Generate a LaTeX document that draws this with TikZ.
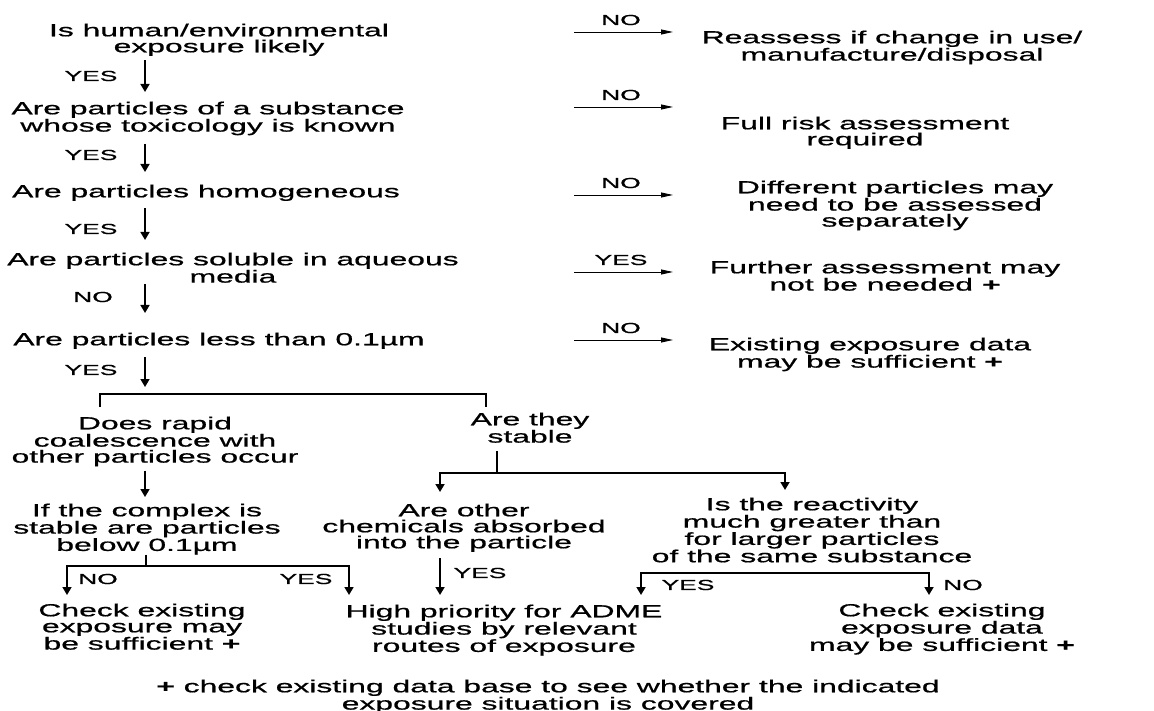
\documentclass[tikz,border=0pt]{standalone}
\usepackage{fontspec}
\setmainfont{Liberation Sans}[FakeStretch=1.82, FakeBold=0.8]
\usetikzlibrary{arrows.meta}

\newcommand{\pls}{{\bfseries+}}

\tikzset{
  txt/.style={align=center, inner sep=0pt, anchor=north, font=\fontsize{17.5}{16}\selectfont},
  lbl/.style={inner sep=0pt, font=\fontsize{14.5}{16}\selectfont},
  dn/.style={line width=1.7pt, -{Triangle[width=9pt,length=8pt]}},
  rt/.style={line width=0.9pt, -{Triangle[width=5pt,length=12pt]}},
  lnk/.style={line width=1.5pt},
}

\begin{document}
\begin{tikzpicture}[x=1pt,y=-1pt]
\useasboundingbox (0,0) rectangle (1154,711);

\coordinate (colL) at (145,0);
\coordinate (s1) at (145,394);
\coordinate (s1l) at (100,394);
\coordinate (s1r) at (486,394);
\coordinate (s2) at (146,566);
\coordinate (s2l) at (67,566);
\coordinate (s2r) at (349,566);
\coordinate (s3) at (497,473);
\coordinate (s3l) at (440,473);
\coordinate (s3r) at (785,473);
\coordinate (s4) at (785,573);
\coordinate (s4l) at (641,573);
\coordinate (s4r) at (929,573);

% questions
\node[txt] (q1) at (219,23.4) {Is human/environmental\\exposure likely};
\node[txt] (q2) at (208,101.4) {Are particles of a substance\\whose toxicology is known};
\node[txt] (q3) at (206,184.4) {Are particles homogeneous};
\node[txt] (q4) at (233,252.4) {Are particles soluble in aqueous\\media};
\node[txt] (q5) at (219,332.4) {Are particles less than 0.1µm};
\node[txt] (q6) at (155,416.4) {Does rapid\\coalescence with\\other particles occur};
\node[txt] (q7) at (530,412.4) {Are they\\stable};
\node[txt] (q8) at (147,503.4) {If the complex is\\stable are particles\\below 0.1µm};
\node[txt] (q9) at (464,503.4) {Are other\\chemicals absorbed\\into the particle};
\node[txt] (q10) at (812,497.4) {Is the reactivity\\much greater than\\for larger particles\\of the same substance};

% outcomes
\node[txt] (r1) at (892,30.4) {Reassess if change in use/\\manufacture/disposal};
\node[txt] (r2) at (865,116.4) {Full risk assessment\\required};
\node[txt] (r3) at (895,180.4) {Different particles may\\need to be assessed\\separately};
\node[txt] (r4) at (885,260.4) {Further assessment may\\not be needed \pls};
\node[txt] (r5) at (870,337.4) {Existing exposure data\\may be sufficient \pls};
\node[txt] (e1) at (142,603.4) {Check existing\\exposure may\\be sufficient \pls};
\node[txt] (e2) at (504,604.4) {High priority for ADME\\studies by relevant\\routes of exposure};
\node[txt] (e3) at (942,603.4) {Check existing\\exposure data\\may be sufficient \pls};
\node[txt] (foot) at (548,679.4) {\pls{} check existing data base to see whether the indicated\\exposure situation is covered};

% main line down
\draw[dn, shorten <=4.3pt, shorten >=9.4pt] (q1.south -| colL) -- (q2.north -| colL);
\draw[dn, shorten <=8.3pt, shorten >=12.4pt] (q2.south -| colL) -- (q3.north -| colL);
\draw[dn, shorten <=7.3pt, shorten >=12.4pt] (q3.south -| colL) -- (q4.north -| colL);
\draw[dn, shorten <=1pt, shorten >=19.4pt] (q4.south -| colL) -- (q5.north -| colL);
\draw[dn, shorten <=8.3pt, shorten >=7pt] (q5.south -| colL) -- (s1);

\node[lbl] (l1) at (91,76) {YES};
\node[lbl] (l2) at (91,155) {YES};
\node[lbl] (l3) at (91,229) {YES};
\node[lbl] (l4) at (93,297) {NO};
\node[lbl] (l5) at (91,370) {YES};

% side exits
\foreach \i/\y/\t in {1/32/NO,2/107/NO,3/195/NO,4/272/YES,5/340/NO}{
  \coordinate (h\i) at (574,\y);
  \draw[rt] (h\i) -- ++(99,0);
  \node[lbl] (m\i) at (621,\y-12) {\t};
}

% first split
\draw[lnk, shorten >=9.4pt] (s1) -| (q6.north -| s1l);
\draw[lnk, shorten >=5.4pt] (s1) -| (q7.north -| s1r);

% coalescence branch
\draw[dn, shorten <=4.3pt, shorten >=6.4pt] (q6.south -| colL) -- (q8.north -| colL);
\draw[lnk] (q8.south -| s2) -- (s2);
\draw[dn, shorten >=8.4pt] (s2) -| (e1.north -| s2l);
\draw[dn, shorten >=9.4pt] (s2) -| (e2.north -| s2r);
\node[lbl] (l6) at (98,579) {NO};
\node[lbl] (l7) at (306,579) {YES};

% stable branch
\draw[lnk, shorten <=8pt] (q7.south -| s3) -- (s3);
\draw[dn, shorten >=11.4pt] (s3) -| (q9.north -| s3l);
\draw[dn, shorten >=7.4pt] (s3) -| (q10.north -| s3r);
\draw[dn, shorten <=6.3pt, shorten >=9.4pt] (q9.south -| s3l) -- (e2.north -| s3l);
\node[lbl] (l8) at (480,573) {YES};

% reactivity branch
\draw[dn, shorten >=9.4pt] (s4) -| (e2.north -| s4l);
\draw[dn, shorten >=8.4pt] (s4) -| (e3.north -| s4r);
\node[lbl] (l9) at (688,585) {YES};
\node[lbl] (l10) at (963,585) {NO};
\end{tikzpicture}
\end{document}
